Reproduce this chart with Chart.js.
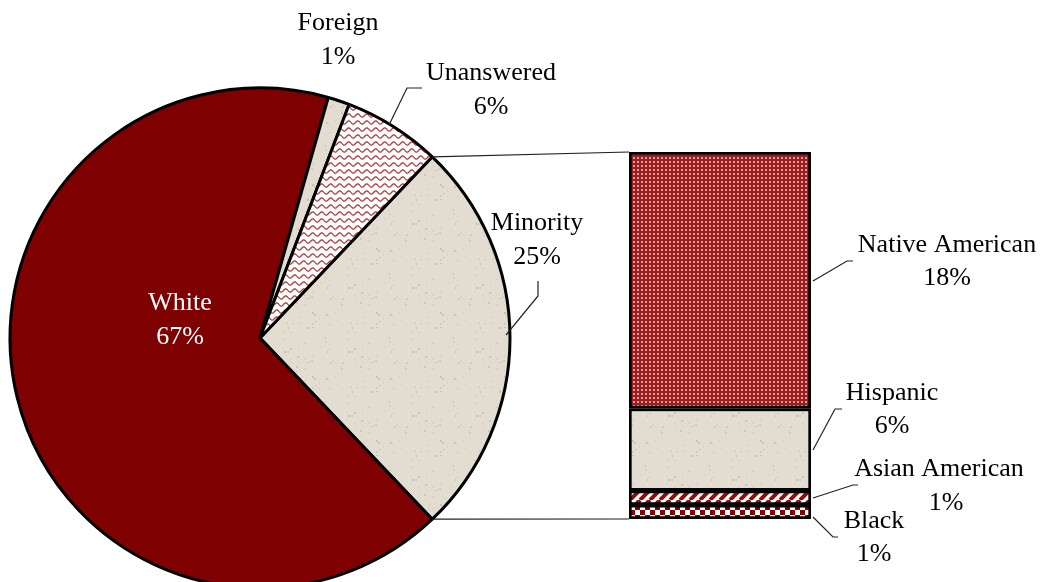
<!DOCTYPE html>
<html>
<head>
<meta charset="utf-8">
<script src="https://cdn.jsdelivr.net/npm/chart.js@4"></script>
<style>
  html, body { margin: 0; padding: 0; background: #fff; overflow: hidden; }
  #wrap { position: relative; width: 1042px; height: 582px; overflow: hidden; }
  #pie { position: absolute; left: 0; top: 0; }
  #bar { position: absolute; left: 0; top: 0; }
  .preload { font-family: 'Liberation Serif'; font-size: 26px; position: absolute; left: -999px; top: -999px; }
</style>
</head>
<body>
<span class="preload">White 67% Native American</span>
<div id="wrap">
  <canvas id="pie" width="1042" height="676" style="width:1042px;height:676px"></canvas>
  <canvas id="bar" width="1042" height="582" style="width:1042px;height:582px"></canvas>
</div>
<script>
// Dados do gráfico principal (pizza)
const pieLabels = ['Minority', 'White', 'Foreign', 'Unanswered'];
const pieValues = [25.8, 66.5, 1.4, 6.3];
const pieTexts  = ['25%', '67%', '1%', '6%'];

// Dados da barra de detalhamento (de baixo para cima)
const barLabels = ['Black', 'Asian American', 'Hispanic', 'Native American'];
const barValues = [1.0, 1.0, 5.8, 18.1];
const barTexts  = ['1%', '1%', '6%', '18%'];

const FONT = '26px "Liberation Serif"';

// ---- texturas ----
function tile(w, h, draw) {
    const c = document.createElement('canvas');
    c.width = w; c.height = h;
    draw(c.getContext('2d'));
    return document.getElementById('pie').getContext('2d').createPattern(c, 'repeat');
}

// areia / bege com pintinhas
let seed = 7;
function rnd() { seed = (seed * 16807) % 2147483647; return seed / 2147483647; }
const sand = tile(64, 64, g => {
    g.fillStyle = '#e3dcd1';
    g.fillRect(0, 0, 64, 64);
    for (let i = 0; i < 60; i++) {
        const a = 0.06 + rnd() * 0.2;
        g.fillStyle = `rgba(120,105,90,${a})`;
        g.fillRect(Math.floor(rnd() * 64), Math.floor(rnd() * 64), 1 + Math.floor(rnd() * 2), 1 + Math.floor(rnd() * 2));
    }
});

// ondas vermelhas
const waves = tile(9, 7, g => {
    g.fillStyle = '#fff';
    g.fillRect(0, 0, 9, 7);
    g.strokeStyle = '#b03a3a';
    g.lineWidth = 1.3;
    g.beginPath();
    for (let x = 0; x <= 9; x += 0.5) {
        const y = 3.5 + 1.6 * Math.sin(x / 9 * Math.PI * 2);
        if (x === 0) g.moveTo(x, y); else g.lineTo(x, y);
    }
    g.stroke();
});

// pontilhado
const dots = tile(4, 4, g => {
    g.fillStyle = '#a01c1c';
    g.fillRect(0, 0, 4, 4);
    g.fillStyle = '#dc9f9f';
    g.fillRect(1, 1, 2, 2);
});

// listras diagonais
const stripes = tile(10, 10, g => {
    g.fillStyle = '#fff';
    g.fillRect(0, 0, 10, 10);
    g.strokeStyle = '#8e0d0d';
    g.lineWidth = 4;
    g.beginPath();
    for (let k = -10; k <= 20; k += 10) {
        g.moveTo(k, 10); g.lineTo(k + 10, 0);
    }
    g.stroke();
});

// xadrez
const checks = tile(10, 10, g => {
    g.fillStyle = '#fff';
    g.fillRect(0, 0, 10, 10);
    g.fillStyle = '#8b0000';
    g.fillRect(0, 0, 5, 5);
    g.fillRect(5, 5, 5, 5);
});

function texto(ctx, txt, x, y, color) {
    ctx.save();
    ctx.font = FONT;
    ctx.fillStyle = color || '#000';
    ctx.textAlign = 'center';
    ctx.textBaseline = 'middle';
    ctx.fillText(txt, x, y);
    ctx.restore();
}

function leader(ctx, pts) {
    ctx.save();
    ctx.strokeStyle = '#222';
    ctx.lineWidth = 1.2;
    ctx.beginPath();
    pts.forEach((p, i) => i ? ctx.lineTo(p[0], p[1]) : ctx.moveTo(p[0], p[1]));
    ctx.stroke();
    ctx.restore();
}

// posição dos rótulos da pizza relativa ao centro
const pieLabelPos = {
    Minority:   { text: [277, -115], line: [[246, -3], [278, -42], [278, -57]] },
    White:      { text: [-80, -35], color: '#fff' },
    Foreign:    { text: [78, -315] },
    Unanswered: { text: [231, -265], line: [[129, -213], [147, -250], [162, -250]] }
};

const pieLabelPlugin = {
    id: 'pieLabels',
    afterDatasetsDraw(chart) {
        const ctx = chart.ctx;
        const arc = chart.getDatasetMeta(0).data[0];
        const cx = arc.x, cy = arc.y;
        pieLabels.forEach((name, i) => {
            const p = pieLabelPos[name];
            if (p.line) leader(ctx, p.line.map(q => [cx + q[0], cy + q[1]]));
            texto(ctx, name, cx + p.text[0], cy + p.text[1], p.color);
            texto(ctx, pieTexts[i], cx + p.text[0], cy + p.text[1] + 34, p.color);
        });
    }
};

// rótulos da barra, relativos ao canto superior direito da barra
const barLabelPos = {
    'Native American': { text: [136, 93],  line: [[2, 129], [36, 109], [42, 109]] },
    'Hispanic':        { text: [81, 241],  line: [[2, 298], [24, 257], [31, 257]] },
    'Asian American':  { text: [128, 317], pct: [135, 351], line: [[2, 346], [42, 333], [47, 333]] },
    'Black':           { text: [63, 369],  line: [[2, 365], [22, 385], [27, 385]] }
};

let pieChart = null;

const barDecor = {
    id: 'barDecor',
    afterDatasetsDraw(chart) {
        const ctx = chart.ctx;
        const area = chart.chartArea;
        const y = chart.scales.y;
        const topY = y.getPixelForValue(barValues.reduce((a, b) => a + b, 0));
        const botY = y.getPixelForValue(0);

        // linhas de ligação entre a fatia Minority e a barra
        const arc = pieChart.getDatasetMeta(0).data[0];
        const r = arc.outerRadius;
        const p1 = [arc.x + r * Math.cos(arc.startAngle), arc.y + r * Math.sin(arc.startAngle)];
        const p2 = [arc.x + r * Math.cos(arc.endAngle), arc.y + r * Math.sin(arc.endAngle)];
        leader(ctx, [p1, [area.left, topY]]);
        leader(ctx, [p2, [area.left, botY]]);

        const rx = area.right, ty = area.top;
        barLabels.forEach((name, i) => {
            const p = barLabelPos[name];
            leader(ctx, p.line.map(q => [rx + q[0], ty + q[1]]));
            texto(ctx, name, rx + p.text[0], ty + p.text[1]);
            const pc = p.pct || [p.text[0], p.text[1] + 33];
            texto(ctx, barTexts[i], rx + pc[0], ty + pc[1]);
        });
    }
};

function desenhar() {
    pieChart = new Chart(document.getElementById('pie'), {
        type: 'pie',
        data: {
            labels: pieLabels,
            datasets: [{
                data: pieValues,
                backgroundColor: [sand, '#7f0000', sand, waves],
                borderColor: '#000',
                borderWidth: 3,
                radius: 250
            }]
        },
        options: {
            responsive: false,
            animation: false,
            layout: { padding: { right: 522 } },
            rotation: 90 - pieValues[0] * 3.6 / 2,
            plugins: { legend: { display: false }, tooltip: { enabled: false } }
        },
        plugins: [pieLabelPlugin]
    });

    const fills = [checks, stripes, sand, dots];

    new Chart(document.getElementById('bar'), {
        type: 'bar',
        data: {
            labels: [''],
            datasets: barLabels.map((name, i) => ({
                label: name,
                data: [barValues[i]],
                backgroundColor: fills[i],
                borderColor: '#000',
                borderWidth: 3,
                borderSkipped: false,
                barPercentage: 1,
                categoryPercentage: 1
            }))
        },
        options: {
            responsive: false,
            animation: false,
            layout: { padding: { left: 629, right: 231, top: 152, bottom: 63 } },
            scales: {
                x: { stacked: true, display: false },
                y: { stacked: true, display: false, min: 0, max: barValues.reduce((a, b) => a + b, 0) }
            },
            plugins: { legend: { display: false }, tooltip: { enabled: false } }
        },
        plugins: [barDecor]
    });
}

// garante que a fonte esteja carregada antes de desenhar
document.fonts.load(FONT).then(desenhar, desenhar);
</script>
</body>
</html>
